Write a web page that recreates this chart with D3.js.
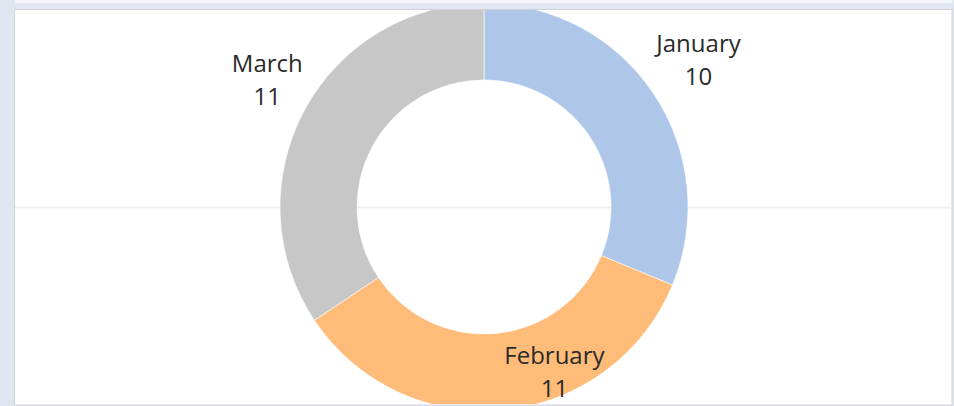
<!DOCTYPE html>
<html>
<head>
<meta charset="utf-8">
<script src="https://cdn.jsdelivr.net/npm/d3@7"></script>
<style>
  html, body { margin: 0; padding: 0; background: #e1e5ef; }
  svg { display: block; }
</style>
</head>
<body>
<svg id="chart" width="954" height="406"></svg>
<script>
// Monthly counts shown in the donut
const months = ["January", "February", "March"];
const counts = [10, 11, 11];
const colors = ["#aec7e8", "#ffbb78", "#c7c7c7"];

// Where each label sits: polar offset from the slice's mid angle (degrees) and distance from centre
const labelAngleShift = [0, -17, 1.4];
const labelRadius = [258, 183, 249];

const W = 954, H = 406;
const svg = d3.select("#chart");

// dashboard chrome
svg.append("rect").attr("x", 0).attr("y", 0).attr("width", W).attr("height", H).attr("fill", "#e1e5ef");
svg.append("rect").attr("x", 15).attr("y", 0).attr("width", 938).attr("height", 3).attr("fill", "#f4f5fa");

const panel = { x: 14, y: 9, w: 939, h: 397 };
svg.append("rect")
  .attr("x", panel.x + 0.5).attr("y", panel.y + 0.5)
  .attr("width", panel.w - 1.5).attr("height", panel.h - 1.5)
  .attr("fill", "#ffffff").attr("stroke", "#d3d3d3").attr("stroke-width", 1);

const clip = svg.append("defs").append("clipPath").attr("id", "plotClip");
clip.append("rect").attr("x", panel.x + 1).attr("y", panel.y + 1)
  .attr("width", panel.w - 3).attr("height", panel.h - 3);

const plot = svg.append("g").attr("clip-path", "url(#plotClip)");

const cx = 484, cy = 207;
const outerR = 204, innerR = 127;

// zero line across the pane
plot.append("line")
  .attr("x1", panel.x).attr("x2", panel.x + panel.w)
  .attr("y1", cy + 0.5).attr("y2", cy + 0.5)
  .attr("stroke", "#efefef").attr("stroke-width", 2);

const data = months.map((m, i) => ({ month: m, count: counts[i], color: colors[i], i }));
const pie = d3.pie().value(d => d.count).sort(null);
const arcs = pie(data);
const arc = d3.arc().innerRadius(innerR).outerRadius(outerR);

const g = plot.append("g").attr("transform", `translate(${cx},${cy})`);
g.selectAll("path.slice")
  .data(arcs)
  .join("path")
  .attr("class", "slice")
  .attr("d", arc)
  .attr("fill", d => d.data.color)
  .attr("stroke", "#ffffff")
  .attr("stroke-width", 0.6);

// labels: month name and count on two lines
const labels = g.selectAll("g.label")
  .data(arcs)
  .join("g")
  .attr("class", "label")
  .attr("transform", d => {
    const i = d.data.i;
    const a = (d.startAngle + d.endAngle) / 2 + labelAngleShift[i] * Math.PI / 180;
    const r = labelRadius[i];
    return `translate(${r * Math.sin(a)},${-r * Math.cos(a)})`;
  });

labels.append("text")
  .attr("text-anchor", "middle")
  .attr("y", -12)
  .attr("font-family", "'Open Sans', sans-serif")
  .attr("font-size", 24)
  .attr("fill", "#2a2a2a")
  .text(d => d.data.month);

labels.append("text")
  .attr("text-anchor", "middle")
  .attr("y", 21)
  .attr("font-family", "'Open Sans', sans-serif")
  .attr("font-size", 24)
  .attr("fill", "#2a2a2a")
  .text(d => d.data.count);
</script>
</body>
</html>
